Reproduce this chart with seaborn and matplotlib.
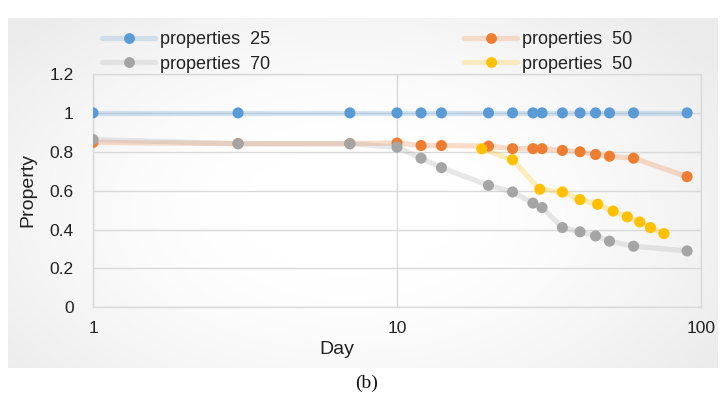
import numpy as np
import pandas as pd
import matplotlib
matplotlib.use("Agg")
import matplotlib.pyplot as plt
import seaborn as sns
from matplotlib.lines import Line2D
from matplotlib.colors import to_rgba

# ---------------- data ----------------
days_25 = [1, 3, 7, 10, 12, 14, 20, 24, 28, 30, 35, 40, 45, 50, 60, 90]
prop_25 = [1.0, 1.0, 1.0, 1.0, 1.0, 1.0, 1.0, 1.0, 1.0, 1.0, 1.0, 1.0, 1.0, 1.0, 1.0, 1.0]

days_50a = [1, 3, 7, 10, 12, 14, 20, 24, 28, 30, 35, 40, 45, 50, 60, 90]
prop_50a = [0.848, 0.842, 0.842, 0.845, 0.832, 0.832, 0.829, 0.816, 0.816, 0.816,
            0.807, 0.800, 0.786, 0.777, 0.767, 0.672]

days_70 = [1, 3, 7, 10, 12, 14, 20, 24, 28, 30, 35, 40, 45, 50, 60, 90]
prop_70 = [0.863, 0.841, 0.841, 0.824, 0.767, 0.718, 0.627, 0.593, 0.536, 0.513,
           0.410, 0.388, 0.367, 0.340, 0.314, 0.290]

days_50b = [19, 24, 29.5, 35, 40, 45.7, 51.4, 57.2, 62.9, 68.2, 75.5]
prop_50b = [0.815, 0.759, 0.607, 0.593, 0.554, 0.530, 0.495, 0.465, 0.439, 0.410, 0.379]

series_keys = ["s25", "s50a", "s70", "s50b"]
series_labels = ["properties  25", "properties  50", "properties  70", "properties  50"]
series_colors = ["#5B9BD5", "#ED7D31", "#A5A5A5", "#FFC000"]

x_ticks = [1, 10, 100]
x_ticklabels = ["1", "10", "100"]
y_ticks = [0, 0.2, 0.4, 0.6, 0.8, 1.0, 1.2]
y_ticklabels = ["0", "0.2", "0.4", "0.6", "0.8", "1", "1.2"]

frames = []
for key, d, p in zip(series_keys, [days_25, days_50a, days_70, days_50b],
                     [prop_25, prop_50a, prop_70, prop_50b]):
    frames.append(pd.DataFrame({"Day": d, "Property": p, "series": key}))
df = pd.concat(frames, ignore_index=True)
palette = dict(zip(series_keys, series_colors))

# ---------------- figure ----------------
sns.set_theme(style="white")
plt.rcParams["font.family"] = ["Liberation Sans", "DejaVu Sans"]

W, H = 724, 396
fig = plt.figure(figsize=(W / 100, H / 100), dpi=100)
fig.patch.set_facecolor("white")

# gradient background frame
fx0, fx1, fy0, fy1 = 8, 718, 18, 368
bg = fig.add_axes([fx0 / W, 1 - fy1 / H, (fx1 - fx0) / W, (fy1 - fy0) / H], zorder=-10)
gx, gy = np.meshgrid(np.linspace(0, 1, 400), np.linspace(0, 1, 200))
r = np.sqrt(((gx - 0.48) / 0.62) ** 2 + ((gy - 0.55) / 0.75) ** 2)
t = np.clip((r - 0.25) / 0.75, 0, 1)
val = 1.0 - 0.075 * t ** 1.4
img = np.dstack([val, val, val])
bg.imshow(img, aspect="auto", extent=[0, 1, 0, 1], origin="upper")
bg.set_axis_off()

ax = fig.add_axes([93 / W, 1 - 307.3 / H, 608 / W, (307.3 - 74) / H])
ax.set_facecolor("none")

sns.lineplot(data=df, x="Day", y="Property", hue="series", palette=palette,
             hue_order=series_keys, estimator=None, sort=False, lw=3.8, alpha=0.25,
             legend=False, ax=ax, zorder=2)
sns.scatterplot(data=df, x="Day", y="Property", hue="series", palette=palette,
                hue_order=series_keys, s=64, edgecolor="none", linewidth=0,
                legend=False, ax=ax, zorder=3)

ax.set_xscale("log")
ax.set_xlim(1, 100)
ax.set_ylim(0, 1.2)
ax.set_xticks(x_ticks)
ax.set_xticklabels(x_ticklabels)
ax.xaxis.set_minor_locator(matplotlib.ticker.NullLocator())
ax.set_yticks(y_ticks)
ax.set_yticklabels(y_ticklabels)
ax.tick_params(axis="both", length=0, labelsize=12.5, colors="#222222")
ax.tick_params(axis="y", pad=14)
ax.tick_params(axis="x", pad=10)
ax.grid(True, color="#d9d9d9", lw=1)
for s in ax.spines.values():
    s.set_color("#d9d9d9")
    s.set_linewidth(1)

ax.set_xlabel("Day", fontsize=14, color="#222222")
ax.set_ylabel("Property", fontsize=14, color="#222222")
ax.xaxis.set_label_coords((337 - 93) / 608, (307.3 - 350) / 233.3)
ax.yaxis.set_label_coords((28 - 93) / 608, (307.3 - 190) / 233.3)
ax.xaxis.label.set_verticalalignment("center")
ax.yaxis.label.set_verticalalignment("center")

fs_leg = 13
em = fs_leg * 100 / 72


def make_handle(c):
    return Line2D([], [], color=to_rgba(c, 0.22), lw=3.8, marker="o", markersize=7.8,
                  markerfacecolor=c, markeredgecolor=c, markeredgewidth=0)


h = [make_handle(c) for c in series_colors]
common = dict(frameon=False, fontsize=fs_leg, handlelength=53 / em, handletextpad=5 / em,
              borderpad=0, borderaxespad=0, labelspacing=0.4, loc="center left")
leg1 = fig.legend([h[0], h[2]], [series_labels[0], series_labels[2]],
                  bbox_to_anchor=(102 / W, 1 - 52 / H), **common)
leg2 = fig.legend([h[1], h[3]], [series_labels[1], series_labels[3]],
                  bbox_to_anchor=(464 / W, 1 - 52 / H), **common)
for lg in (leg1, leg2):
    for tx in lg.get_texts():
        tx.set_color("#222222")

fig.text(367 / W, 1 - 383 / H, "(b)", ha="center", va="center", fontsize=14,
         family=["Liberation Serif", "DejaVu Serif"], color="#111111")

fig.savefig("out.png", dpi=100)
